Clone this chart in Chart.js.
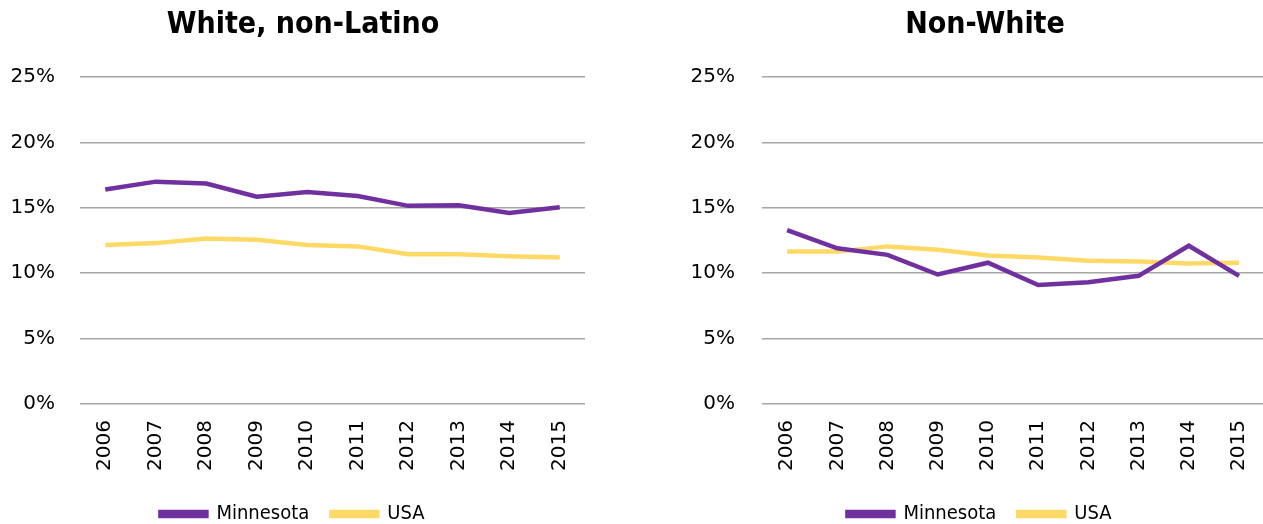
<!DOCTYPE html>
<html>
<head>
<meta charset="utf-8">
<script src="https://cdn.jsdelivr.net/npm/chart.js@4"></script>
<style>
  body { margin: 0; background: #fff; overflow: hidden; width: 1263px; height: 524px; position: relative; }
  .box { position: absolute; top: 0; height: 524px; }
</style>
</head>
<body>
<div class="box" style="left:0;width:606px"><canvas id="leftChart"></canvas></div>
<div class="box" style="left:680px;width:599px"><canvas id="rightChart"></canvas></div>
<script>
const years = ['2006', '2007', '2008', '2009', '2010', '2011', '2012', '2013', '2014', '2015'];
const yTicks = [0, 5, 10, 15, 20, 25];

// White, non-Latino
const whiteMinnesota = [16.4, 17.0, 16.85, 15.85, 16.2, 15.9, 15.15, 15.2, 14.6, 15.05];
const whiteUSA = [12.15, 12.3, 12.65, 12.55, 12.15, 12.05, 11.45, 11.45, 11.3, 11.2];

// Non-White
const nonWhiteMinnesota = [13.3, 11.9, 11.4, 9.9, 10.8, 9.1, 9.3, 9.8, 12.1, 9.8];
const nonWhiteUSA = [11.65, 11.65, 12.05, 11.8, 11.35, 11.2, 10.95, 10.9, 10.75, 10.8];

const purple = '#7030a0';
const yellow = '#ffd966';
const tickFont = '"DejaVu Sans", sans-serif';
const narrowFont = '"DejaVu Sans Condensed", "DejaVu Sans", sans-serif';

// panel title, centred where the original puts it (not on the plot area)
const panelTitle = {
    id: 'panelTitle',
    afterDraw(chart, args, opts) {
        const ctx = chart.ctx;
        ctx.save();
        ctx.font = 'bold 30px ' + narrowFont;
        ctx.fillStyle = '#000';
        ctx.textAlign = 'center';
        ctx.textBaseline = 'middle';
        ctx.fillText(opts.text, opts.x, opts.y);
        ctx.restore();
    }
};

function makeChart(id, title, mnData, usaData, axisWidth, tickPad, padRight, titleX) {
    return new Chart(document.getElementById(id), {
        type: 'line',
        data: {
            labels: years,
            datasets: [{
                label: 'Minnesota',
                data: mnData,
                borderColor: purple,
                backgroundColor: purple,
                borderWidth: 4.5,
                pointRadius: 0,
                tension: 0
            }, {
                label: 'USA',
                data: usaData,
                borderColor: yellow,
                backgroundColor: yellow,
                borderWidth: 4.5,
                pointRadius: 0,
                tension: 0
            }]
        },
        plugins: [panelTitle],
        options: {
            responsive: true,
            maintainAspectRatio: false,
            animation: false,
            layout: { padding: { left: 0, right: padRight, top: 77, bottom: -10 } },
            plugins: {
                panelTitle: { text: title, x: titleX, y: 25 },
                legend: {
                    position: 'bottom',
                    labels: {
                        color: '#000',
                        font: { family: narrowFont, size: 20 },
                        boxWidth: 46,
                        boxHeight: 4,
                        padding: 22
                    }
                },
                tooltip: { enabled: false }
            },
            scales: {
                x: {
                    offset: true,
                    afterFit: axis => {
                        axis.height = 78;
                    },
                    grid: { display: false, drawTicks: false },
                    border: { display: false },
                    ticks: {
                        color: '#000',
                        font: { family: tickFont, size: 20 },
                        minRotation: 90,
                        maxRotation: 90,
                        padding: 16
                    }
                },
                y: {
                    min: 0,
                    max: 25,
                    afterBuildTicks: axis => {
                        axis.ticks = yTicks.map(v => ({ value: v }));
                    },
                    afterFit: axis => {
                        axis.width = axisWidth;
                    },
                    grid: { color: '#a6a6a6', lineWidth: 1.5, drawTicks: false },
                    border: { display: false },
                    ticks: {
                        color: '#000',
                        font: { family: tickFont, size: 20 },
                        padding: tickPad,
                        callback: v => v + '%'
                    }
                }
            }
        }
    });
}

makeChart('leftChart', 'White, non-Latino', whiteMinnesota, whiteUSA, 80, 25, 21, 303);
makeChart('rightChart', 'Non-White', nonWhiteMinnesota, nonWhiteUSA, 82, 27, 0, 305);
</script>
</body>
</html>
